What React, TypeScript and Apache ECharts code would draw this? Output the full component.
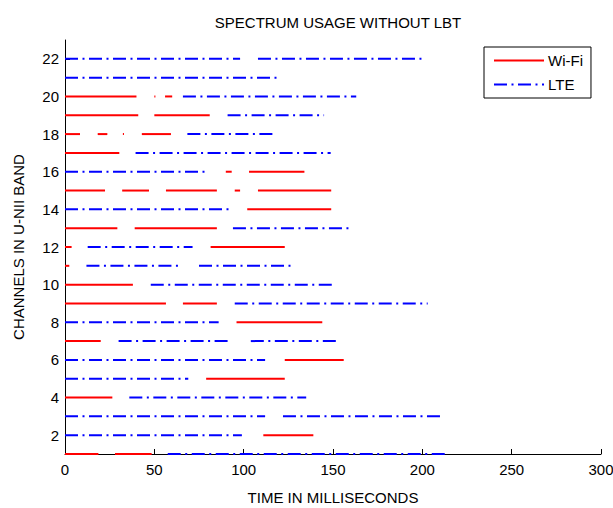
import React, { useEffect, useRef } from "react";
import * as echarts from "echarts";

// [channel, start ms, end ms]
const wifiSegments: [number, number, number][] = [
  [20, 0, 40], [20, 50, 50.6], [20, 56, 60],
  [19, 0, 41], [19, 50, 81],
  [18, 0, 8.4], [18, 18.3, 23.7], [18, 32.4, 33], [18, 43, 59.3],
  [17, 0, 30.4],
  [16, 90, 93.3], [16, 103, 134],
  [15, 0, 22.4], [15, 32, 47], [15, 56.5, 85], [15, 95, 98], [15, 108, 149],
  [14, 102, 149],
  [13, 0, 29.3], [13, 39, 85],
  [12, 0, 3.7], [12, 81.5, 123],
  [11, 0, 2.4],
  [10, 0, 38],
  [9, 0, 56.5], [9, 66, 85],
  [8, 96, 144],
  [7, 0, 20],
  [6, 123, 156],
  [5, 79, 123],
  [4, 0, 26.5],
  [2, 111, 139],
  [1, 0, 18.7], [1, 28, 48.5],
];

const lteSegments: [number, number, number][] = [
  [22, 0, 98], [22, 108, 201.5],
  [21, 0, 119.4],
  [20, 66, 163],
  [19, 91, 145],
  [18, 68.5, 118.5],
  [17, 39.5, 148.7],
  [16, 0, 80],
  [14, 0, 93],
  [13, 94, 161],
  [12, 12.7, 71.4],
  [11, 12, 65], [11, 75, 128],
  [10, 48, 150],
  [9, 95, 203],
  [8, 0, 86],
  [7, 30, 93], [7, 104, 153],
  [6, 0, 112],
  [5, 0, 69],
  [4, 36, 135],
  [3, 0, 112], [3, 122, 211],
  [2, 0, 99],
  [1, 57.5, 213],
];

const yTickValues = [2, 4, 6, 8, 10, 12, 14, 16, 18, 20, 22];
const xTickValues = [0, 50, 100, 150, 200, 250, 300];

const FONT = "'Liberation Sans', Arial, Helvetica, sans-serif";
const FS = 15;

export default function App() {
  const ref = useRef<HTMLDivElement>(null);
  useEffect(() => {
    if (!ref.current) return;
    const chart = echarts.init(ref.current, undefined, { renderer: "svg" });
    const wifiSeries = wifiSegments.map(([ch, a, b]) => ({
      name: "Wi-Fi",
      type: "line",
      symbol: "none",
      data: [[a, ch], [b, ch]],
      lineStyle: { color: "#ff0000", width: 2, type: "solid" },
      itemStyle: { color: "#ff0000" },
      silent: true,
    }));
    const lteSeries = lteSegments.map(([ch, a, b]) => ({
      name: "LTE",
      type: "line",
      symbol: "none",
      data: [[a, ch], [b, ch]],
      lineStyle: { color: "#0000ff", width: 2, type: [13, 4.5, 2, 4.5] },
      itemStyle: { color: "#0000ff" },
      silent: true,
    }));
    chart.setOption({
      animation: false,
      backgroundColor: "#ffffff",
      title: {
        text: "SPECTRUM USAGE WITHOUT LBT",
        left: 333,
        top: 10,
        textAlign: "center",
        textStyle: { fontFamily: FONT, fontSize: FS, fontWeight: "normal", color: "#000" },
      },
      legend: {
        data: ["Wi-Fi", "LTE"],
        orient: "vertical",
        left: 484,
        top: 47,
        itemWidth: 50,
        itemHeight: 14,
        itemGap: 9,
        padding: [6, 8, 6, 9],
        borderColor: "#000",
        borderWidth: 1,
        backgroundColor: "#fff",
        itemStyle: { opacity: 0 },
        textStyle: { fontFamily: FONT, fontSize: FS, color: "#000", padding: [0, 0, 0, -1] },
      },
      grid: {
        left: 65,
        right: 12,
        top: 40,
        bottom: 54,
        containLabel: false,
        outerBoundsMode: "none",
      },
      xAxis: {
        type: "value",
        min: 0,
        max: 300,
        interval: 50,
        name: "TIME IN MILLISECONDS",
        nameLocation: "middle",
        nameGap: 36,
        nameTextStyle: { fontFamily: FONT, fontSize: FS, color: "#000" },
        axisLine: { show: true, lineStyle: { color: "#000", width: 1 } },
        axisTick: { show: true, inside: true, length: 5, lineStyle: { color: "#000" }, customValues: xTickValues },
        axisLabel: { fontFamily: FONT, fontSize: FS, color: "#000", margin: 8, customValues: xTickValues },
        splitLine: { show: false },
      },
      yAxis: {
        type: "value",
        min: 1,
        max: 23,
        interval: 1,
        name: "CHANNELS IN U-NII BAND",
        nameLocation: "middle",
        nameGap: 39,
        nameTextStyle: { fontFamily: FONT, fontSize: FS, color: "#000" },
        axisLine: { show: true, lineStyle: { color: "#000", width: 1 } },
        axisTick: { show: true, inside: true, length: 5, lineStyle: { color: "#000" }, customValues: yTickValues },
        axisLabel: { fontFamily: FONT, fontSize: FS, color: "#000", margin: 6, customValues: yTickValues },
        splitLine: { show: false },
      },
      series: [...wifiSeries, ...lteSeries],
    });
    return () => chart.dispose();
  }, []);
  return (
    <div
      ref={ref}
      style={{ position: "fixed", left: 0, top: 0, width: 613, height: 508, background: "#fff" }}
    />
  );
}
